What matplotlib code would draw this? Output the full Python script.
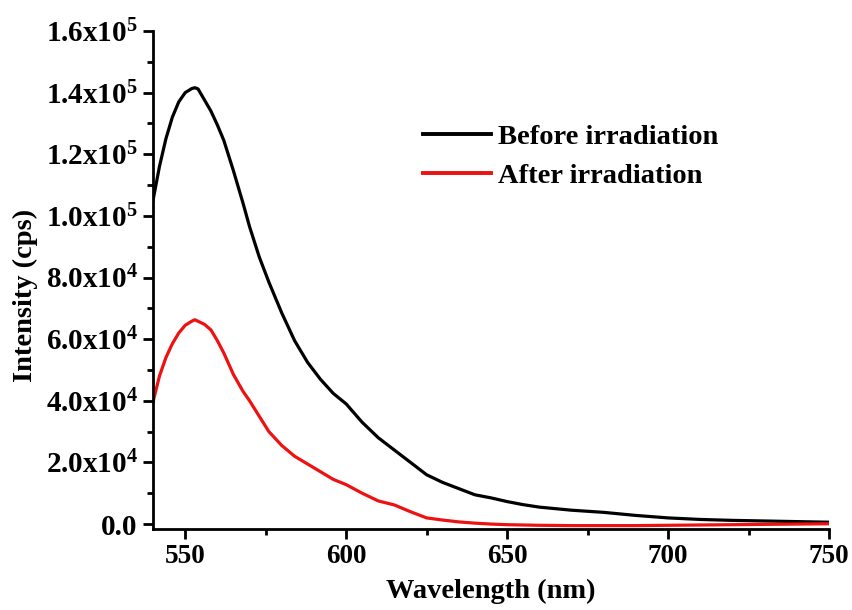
import matplotlib
matplotlib.use("Agg")
import matplotlib.pyplot as plt
from matplotlib.ticker import MultipleLocator, FixedLocator

plt.rcParams['font.family'] = ['Liberation Serif', 'DejaVu Serif']
plt.rcParams['font.weight'] = 'bold'
plt.rcParams['mathtext.fontset'] = 'custom'
plt.rcParams['mathtext.rm'] = 'Liberation Serif:bold'
plt.rcParams['mathtext.bf'] = 'Liberation Serif:bold'
plt.rcParams['mathtext.it'] = 'Liberation Serif:bold'

wavelength = [540, 542, 544, 546, 548, 550, 552, 553, 554, 556, 558, 560, 562, 565, 568,
              570, 573, 576, 580, 584, 588, 592, 596, 600, 605, 610, 615, 620, 625, 630,
              635, 640, 645, 650, 655, 660, 670, 680, 690, 700, 710, 720, 730, 740, 750]

before = [105, 116, 125, 132, 137, 140, 141.3, 141.6, 141.2, 137.6, 134, 129.5, 124.5, 114.6, 104,
          96.5, 86.7, 78.5, 68.5, 59.5, 52.5, 47, 42.4, 39, 33, 28, 24, 20, 16, 13.5,
          11.5, 9.5, 8.5, 7.3, 6.3, 5.5, 4.5, 3.8, 2.8, 2.0, 1.5, 1.2, 1.0, 0.8, 0.6]

after = [39.6, 48, 54, 58.5, 62, 64.5, 65.8, 66.3, 65.8, 64.8, 63, 59.5, 55.5, 48.5, 43,
         40, 35, 30, 25.5, 22, 19.5, 17, 14.5, 12.8, 10, 7.5, 6.2, 4.0, 2.0, 1.3,
         0.7, 0.3, 0.0, -0.2, -0.3, -0.4, -0.5, -0.5, -0.5, -0.4, -0.3, -0.2, -0.1, 0.0, 0.1]

series_labels = ["Before irradiation", "After irradiation"]
series_colors = ["#000000", "#ee1111"]

y_ticks = [0, 20000, 40000, 60000, 80000, 100000, 120000, 140000, 160000]
y_tick_labels = ["0.0", r"2.0x10$^{4}$", r"4.0x10$^{4}$", r"6.0x10$^{4}$", r"8.0x10$^{4}$",
                 r"1.0x10$^{5}$", r"1.2x10$^{5}$", r"1.4x10$^{5}$", r"1.6x10$^{5}$"]
x_ticks = [550, 600, 650, 700, 750]

fig = plt.figure(figsize=(8.52, 6.10), dpi=100)
ax = fig.add_axes([153/852, 1 - 529/610, (829 - 153)/852, (529 - 31)/610])

ax.plot(wavelength, [v * 1000 for v in before], color=series_colors[0], lw=2.3, label=series_labels[0])
ax.plot(wavelength, [v * 1000 for v in after], color=series_colors[1], lw=2.3, label=series_labels[1])

ax.set_xlim(540, 750)
ax.set_ylim(-1600, 160000)
ax.xaxis.set_major_locator(FixedLocator(x_ticks))
ax.xaxis.set_minor_locator(MultipleLocator(25))
ax.set_yticks(y_ticks)
ax.set_yticklabels(y_tick_labels)
ax.yaxis.set_minor_locator(MultipleLocator(10000))

for s in ['top', 'right']:
    ax.spines[s].set_visible(False)
for s in ['left', 'bottom']:
    ax.spines[s].set_linewidth(2.0)

ax.tick_params(which='major', direction='out', length=7, width=2.0, pad=4)
ax.tick_params(which='minor', direction='out', length=4, width=2.0)
ax.tick_params(axis='x', labelsize=19.5)
ax.tick_params(axis='y', labelsize=21)
for lbl in ax.get_xticklabels() + ax.get_yticklabels():
    lbl.set_fontweight('bold')

ax.set_xlabel("Wavelength (nm)", fontsize=20.5, fontweight='bold', labelpad=7)
fig.text(25/852, 1 - 295/610, "Intensity (cps)", rotation=90, ha='center', va='center',
         fontsize=20.5, fontweight='bold')

leg = ax.legend(loc='upper left', bbox_to_anchor=(423/852, 1 - 124/610),
                bbox_transform=fig.transFigure, frameon=False, fontsize=20.5,
                handlelength=2.4, handletextpad=0.25, labelspacing=0.45, borderpad=0,
                borderaxespad=0)
for t in leg.get_texts():
    t.set_fontweight('bold')
for h in leg.get_lines():
    h.set_linewidth(2.8)

fig.savefig("out.png", dpi=100)
